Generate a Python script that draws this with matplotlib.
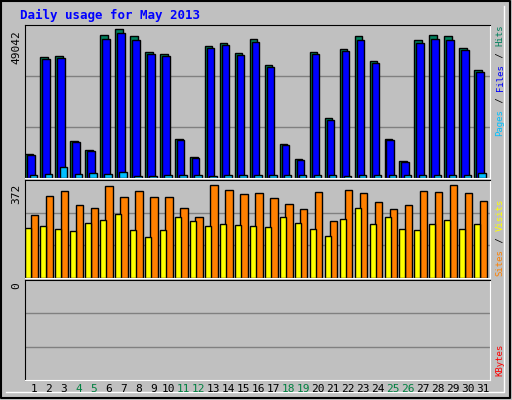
import matplotlib
matplotlib.use('Agg')
import matplotlib.pyplot as plt

days = list(range(1, 32))
weekend = [4, 5, 11, 12, 18, 19, 25, 26]

hits_px = [153, 56, 55, 140, 149, 35, 29, 36, 51, 53, 138, 156, 45, 42, 52, 39,
           64, 143, 158, 51, 117, 48, 36, 60, 138, 160, 40, 35, 36, 47, 69]
hits = [(177 - t) / 148 * 49042 for t in hits_px]
files = [h * 0.985 - 300 for h in hits]
pages = [1100, 1200, 3500, 1200, 1500, 1200, 2000, 600, 600, 900, 900, 900, 600, 900, 900, 900,
         900, 900, 900, 900, 900, 600, 900, 900, 900, 900, 900, 900, 900, 900, 1500]
visits_px = [214, 195, 190, 204, 207, 185, 196, 190, 196, 196, 207, 216, 184, 189, 193, 192,
             197, 203, 208, 191, 220, 189, 192, 201, 208, 204, 190, 191, 184, 192, 200]
sites_px = [227, 225, 228, 230, 222, 219, 213, 229, 236, 229, 216, 220, 225, 223, 224, 225,
            226, 216, 222, 228, 235, 218, 207, 223, 216, 228, 229, 223, 219, 228, 223]
visits = [(276 - t) / 93 * 372 for t in visits_px]
sites = [(276 - t) / 93 * 372 for t in sites_px]

W, H = 512, 400
fig = plt.figure(figsize=(W / 100, H / 100), dpi=100, facecolor='#c0c0c0')
font = 'DejaVu Sans Mono'
X0, X1 = 25, 490
XL, XR = 0.42, 31.5

def box(x0, y0, x1, y1):
    return fig.add_axes([x0 / W, 1 - y1 / H, (x1 - x0) / W, (y1 - y0) / H])

# outer frame
fr = fig.add_axes([0, 0, 1, 1]); fr.set_xlim(0, W); fr.set_ylim(H, 0); fr.axis('off')
fr.plot([1, 510, 510, 1, 1], [1, 1, 398, 398, 1], color='black', lw=1.5)
fr.plot([6, 504, 504], [392, 392, 6], color='white', lw=1)
fr.text(20, 15, 'Daily usage for May 2013', color='#0000ff', family=font,
        fontsize=9, fontweight='bold', va='center')

def panel(y0, y1, ymax):
    ax = box(X0, y0, X1, y1)
    ax.set_facecolor('#c0c0c0')
    ax.set_xlim(XL, XR)
    ax.set_ylim(0, ymax)
    ax.set_xticks([]); ax.set_yticks([])
    for yy in (ymax / 3, 2 * ymax / 3):
        ax.axhline(yy, color='#808080', lw=1, zorder=0)
    for s in ax.spines.values():
        s.set_color('black')
    ax.spines['right'].set_color('white'); ax.spines['bottom'].set_color('white')
    return ax

a1 = panel(25, 178, 49042 * 1.03)
kw = dict(edgecolor='black', linewidth=1, align='edge')
a1.bar([d - 0.55 for d in days], hits, 0.5, color='#00805c', **kw)
a1.bar([d - 0.42 for d in days], files, 0.5, color='#0000ff', **kw)
a1.bar([d - 0.27 for d in days], pages, 0.5, color='#00c0ff', **kw)

a2 = panel(180, 278, 372 * 1.04)
a2.bar([d - 0.2 for d in days], visits, 0.5, color='#ff8000', **kw)
a2.bar([d - 0.55 for d in days], sites, 0.4, color='#ffff00', **kw)

a3 = panel(280, 380, 3)

fr.text(16, 30, '49042', rotation=90, family=font, fontsize=8, ha='center', va='top')
fr.text(16, 184, '372', rotation=90, family=font, fontsize=8, ha='center', va='top')
fr.text(16, 282, '0', rotation=90, family=font, fontsize=8, ha='center', va='top')

for d in days:
    x = X0 + (d - XL) / (XR - XL) * (X1 - X0)
    fr.text(x, 389, str(d), family=font, fontsize=8, ha='center', va='center',
            color='#008040' if d in weekend else 'black')

def side(y_bottom, parts):
    y = y_bottom
    for t, c in parts:
        fr.text(500, y, t, rotation=90, color=c, family=font, fontsize=6.5,
                ha='center', va='bottom')
        y -= len(t) * 5.6
side(136, [('Pages', '#00c0ff'), (' / ', 'black'), ('Files', '#0000ff'), (' / ', 'black'), ('Hits', '#00805c')])
side(276, [('Sites', '#ff8000'), (' / ', 'black'), ('Visits', '#ffff00')])
side(376, [('KBytes', '#ff0000')])

fig.savefig('out.png', dpi=100, facecolor=fig.get_facecolor())
